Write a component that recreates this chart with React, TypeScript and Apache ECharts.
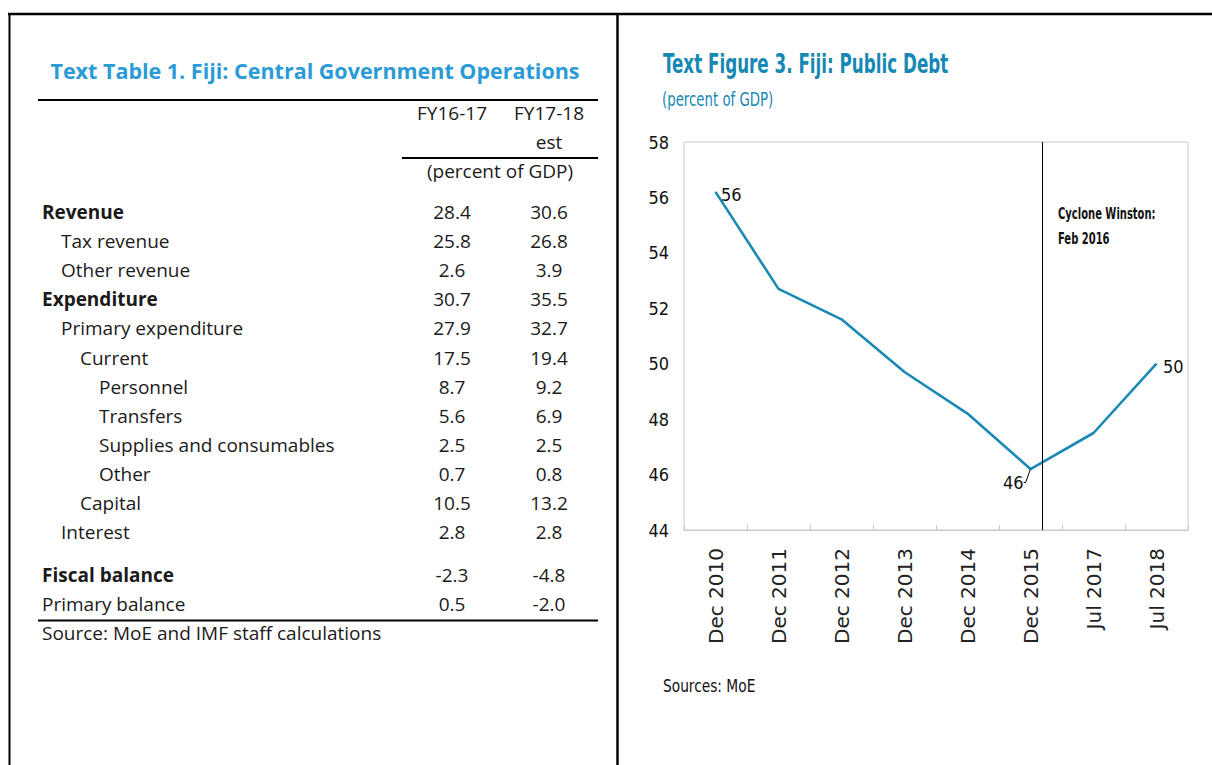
import React, { useEffect, useRef } from "react";
import * as echarts from "echarts";

// ---------- Data: Text Table 1 ----------
const tableTitle = "Text Table 1. Fiji: Central Government Operations";
const colHeaders = ["FY16-17", "FY17-18"];
const colSubHeaders = ["", "est"];
const unitLabel = "(percent of GDP)";
const tableSource = "Source: MoE and IMF staff calculations";
const rowLabels = [
  "Revenue",
  "Tax revenue",
  "Other revenue",
  "Expenditure",
  "Primary expenditure",
  "Current",
  "Personnel",
  "Transfers",
  "Supplies and consumables",
  "Other",
  "Capital",
  "Interest",
  "Fiscal balance",
  "Primary balance",
];
const rowLevels = [0, 1, 1, 0, 1, 2, 3, 3, 3, 3, 2, 1, 0, 0];
const rowBold = [true, false, false, true, false, false, false, false, false, false, false, false, true, false];
const fy1617 = [28.4, 25.8, 2.6, 30.7, 27.9, 17.5, 8.7, 5.6, 2.5, 0.7, 10.5, 2.8, -2.3, 0.5];
const fy1718 = [30.6, 26.8, 3.9, 35.5, 32.7, 19.4, 9.2, 6.9, 2.5, 0.8, 13.2, 2.8, -4.8, -2.0];

// ---------- Data: Text Figure 3 ----------
const figTitle = "Text Figure 3. Fiji: Public Debt";
const figSubtitle = "(percent of GDP)";
const figSource = "Sources: MoE";
const periods = ["Dec 2010", "Dec 2011", "Dec 2012", "Dec 2013", "Dec 2014", "Dec 2015", "Jul 2017", "Jul 2018"];
const debt = [56.2, 52.7, 51.6, 49.7, 48.2, 46.2, 47.5, 50.0];
const labeledPoints = [0, 5, 7];
const yTicks = { min: 44, max: 58, interval: 2 };
const eventPosition = 5.18; // Cyclone Winston, Feb 2016 (in category index units)
const eventLabel = ["Cyclone Winston:", "Feb 2016"];

const NARROW = "'DejaVu Sans Condensed', 'Liberation Sans Narrow', sans-serif";
const TABLE_FONT = "'Open Sans', sans-serif";

export default function App() {
  const ref = useRef<HTMLDivElement>(null);

  useEffect(() => {
    if (!ref.current) return;
    const chart = echarts.init(ref.current, null, { renderer: "svg" });

    const g: any[] = [];
    // frame
    const frame = { stroke: "#000", lineWidth: 2.5 };
    g.push({ type: "line", shape: { x1: 8, y1: 14, x2: 1212, y2: 14 }, style: frame });
    g.push({ type: "line", shape: { x1: 9.5, y1: 14, x2: 9.5, y2: 765 }, style: { stroke: "#000", lineWidth: 2 } });
    g.push({ type: "line", shape: { x1: 617.5, y1: 14, x2: 617.5, y2: 765 }, style: frame });

    // table
    g.push({
      type: "text",
      x: 315,
      y: 70,
      style: { text: tableTitle, font: `bold 21.5px ${TABLE_FONT}`, fill: "#2b9bd8", align: "center", verticalAlign: "middle" },
    });
    const rule = { stroke: "#000", lineWidth: 2 };
    g.push({ type: "line", shape: { x1: 38, y1: 100, x2: 598, y2: 100 }, style: rule });
    g.push({ type: "line", shape: { x1: 402, y1: 158, x2: 598, y2: 158 }, style: rule });
    g.push({ type: "line", shape: { x1: 38, y1: 620.5, x2: 598, y2: 620.5 }, style: rule });

    const colX = [452, 549];
    const txt = (text: string, x: number, y: number, align: string, bold = false) => ({
      type: "text",
      x,
      y,
      style: {
        text,
        font: `${bold ? "bold " : ""}19px ${TABLE_FONT}`,
        fill: "#1a1a1a",
        align,
        verticalAlign: "middle",
      },
    });
    colHeaders.forEach((h, i) => g.push(txt(h, colX[i], 113, "center")));
    colSubHeaders.forEach((h, i) => h && g.push(txt(h, colX[i], 142, "center")));
    g.push(txt(unitLabel, 500, 171, "center"));
    rowLabels.forEach((lab, i) => {
      const y = 212 + i * 29.1 + (i >= 12 ? 14 : 0);
      g.push(txt(lab, 42 + 19 * rowLevels[i], y, "left", rowBold[i]));
      g.push(txt(fy1617[i].toFixed(1), colX[0], y, "center"));
      g.push(txt(fy1718[i].toFixed(1), colX[1], y, "center"));
    });
    g.push(txt(tableSource, 42, 633, "left"));

    // figure texts (condensed face, compressed horizontally like the original)
    g.push({
      type: "text",
      x: 663,
      y: 63,
      scaleX: 0.69,
      style: { text: figTitle, font: `bold 27px ${NARROW}`, fill: "#1688b4", align: "left", verticalAlign: "middle" },
    });
    g.push({
      type: "text",
      x: 662,
      y: 99,
      scaleX: 0.78,
      style: { text: figSubtitle, font: `19px ${NARROW}`, fill: "#1688b4", align: "left", verticalAlign: "middle" },
    });
    g.push({
      type: "text",
      x: 663,
      y: 686,
      scaleX: 0.85,
      style: { text: figSource, font: `18px ${NARROW}`, fill: "#111", align: "left", verticalAlign: "middle" },
    });
    eventLabel.forEach((t, i) => {
      g.push({
        type: "text",
        x: 1058,
        y: 214 + i * 25,
        scaleX: 0.74,
        style: { text: t, font: `bold 15px ${NARROW}`, fill: "#111", align: "left", verticalAlign: "middle" },
      });
    });

    const labelCfg: Record<number, any> = {
      0: { show: true, position: "right", distance: 5, offset: [0, 3] },
      5: { show: true, position: [-27, 5] },
      7: { show: true, position: "right", distance: 6, offset: [0, 3] },
    };

    const seriesData = debt.map((v, i) => {
      const item: any = { value: v };
      if (labeledPoints.includes(i)) {
        item.label = {
          ...labelCfg[i],
          formatter: (p: any) => Math.round(p.value).toString(),
        };
        if (i === 5) {
          item.labelLine = { show: true, length2: 2, lineStyle: { color: "#000", width: 1 } };
        }
      }
      return item;
    });

    chart.setOption({
      animation: false,
      backgroundColor: "#fff",
      graphic: g,
      grid: { left: 684, top: 142, width: 504, height: 388, show: true, borderColor: "#c8c8c8", borderWidth: 1 },
      xAxis: [
        {
          type: "category",
          data: periods,
          boundaryGap: true,
          axisLine: { show: true, lineStyle: { color: "#c8c8c8" } },
          axisTick: { show: true, inside: true, length: 5, lineStyle: { color: "#c8c8c8" } },
          axisLabel: { rotate: 90, margin: 18, fontSize: 20, fontFamily: "'DejaVu Sans', sans-serif", color: "#222" },
          splitLine: { show: false },
        },
        {
          type: "value",
          min: -0.5,
          max: 7.5,
          show: false,
          splitLine: { show: false },
        },
      ],
      yAxis: {
        type: "value",
        min: yTicks.min,
        max: yTicks.max,
        interval: yTicks.interval,
        axisLine: { show: false },
        axisTick: { show: false },
        splitLine: { show: false },
        axisLabel: { fontSize: 18, fontFamily: NARROW, color: "#111", margin: 15 },
      },
      series: [
        {
          type: "line",
          data: seriesData,
          symbol: "circle",
          symbolSize: 1,
          itemStyle: { color: "rgba(0,0,0,0)", borderWidth: 0 },
          lineStyle: { color: "#1a8ab4", width: 2.6 },
          label: { show: false, fontSize: 18, fontFamily: NARROW, color: "#111" },
          z: 3,
        },
        {
          type: "line",
          xAxisIndex: 1,
          data: [],
          markLine: {
            silent: true,
            symbol: "none",
            label: { show: false },
            lineStyle: { color: "#000", width: 1, type: "solid" },
            data: [{ xAxis: eventPosition }],
          },
          z: 2,
        },
      ],
    });

    return () => chart.dispose();
  }, []);

  return <div ref={ref} style={{ position: "fixed", left: 0, top: 0, width: 1212, height: 765 }} />;
}
